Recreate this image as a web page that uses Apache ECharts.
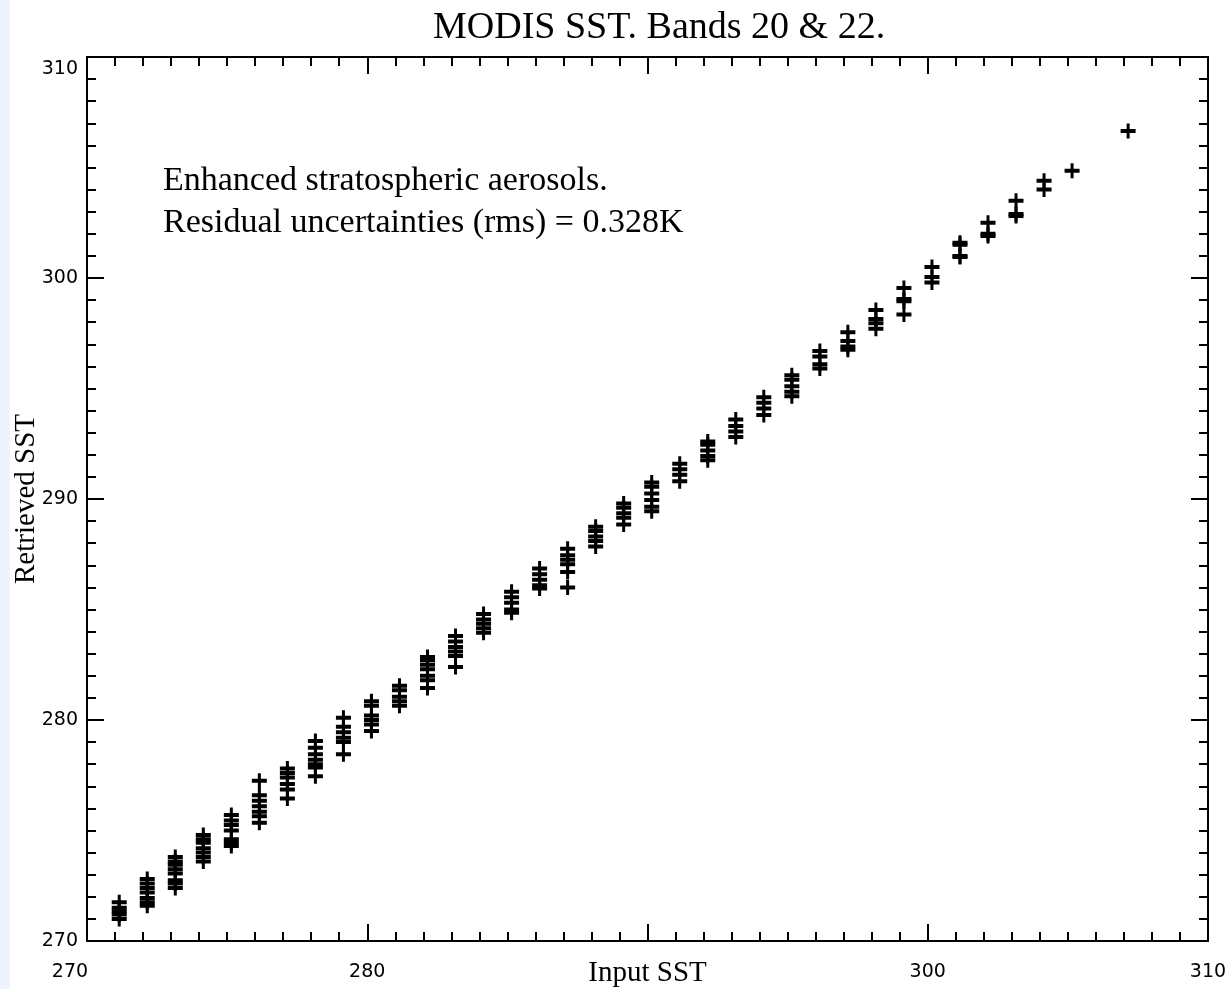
<!DOCTYPE html>
<html>
<head>
<meta charset="utf-8">
<title>MODIS SST. Bands 20 & 22.</title>
<script src="https://cdn.jsdelivr.net/npm/echarts@6/dist/echarts.min.js"></script>
<style>
  html, body { margin: 0; padding: 0; background: #fff; }
  #strip { position: absolute; left: 0; top: 0; width: 10px; height: 989px; background: #eef4fb; }
  #chart { position: absolute; left: 0; top: 0; width: 1230px; height: 989px; }
</style>
</head>
<body>
<div id="strip"></div>
<div id="chart"></div>
<script>
// input SST of each column of marks
const inputSST = [
  271.15, 272.15, 273.15, 274.15, 275.15, 276.15, 277.15, 278.15, 279.15, 280.15,
  281.15, 282.15, 283.15, 284.15, 285.15, 286.15, 287.15, 288.15, 289.15, 290.15,
  291.15, 292.15, 293.15, 294.15, 295.15, 296.15, 297.15, 298.15, 299.15, 300.15,
  301.15, 302.15, 303.15, 304.15, 305.15, 307.15
]

// retrieved SST values, one list per input column
const retrievedSST = [
  [271.75, 271.5, 271.35, 271.2, 271.0],
  [272.8, 272.6, 272.4, 272.2, 271.95, 271.75, 271.6],
  [273.8, 273.6, 273.45, 273.25, 273.05, 272.75, 272.6, 272.4],
  [274.8, 274.6, 274.45, 274.2, 274.0, 273.8, 273.6],
  [275.7, 275.45, 275.25, 275.0, 274.6, 274.45, 274.3],
  [277.25, 276.6, 276.35, 276.1, 275.85, 275.65, 275.35],
  [277.8, 277.6, 277.4, 277.1, 276.85, 276.45],
  [279.05, 278.75, 278.45, 278.2, 278.0, 277.85, 277.45],
  [280.1, 279.7, 279.45, 279.2, 279.0, 278.45],
  [280.85, 280.65, 280.2, 280.0, 279.8, 279.5],
  [281.55, 281.35, 281.05, 280.85, 280.65],
  [282.85, 282.7, 282.5, 282.3, 282.0, 281.8, 281.45],
  [283.8, 283.55, 283.3, 283.1, 282.9, 282.4],
  [284.8, 284.55, 284.35, 284.15, 283.95],
  [285.8, 285.55, 285.3, 285.0, 284.85],
  [286.85, 286.6, 286.35, 286.1, 285.95],
  [287.75, 287.45, 287.25, 287.05, 286.7, 286.0],
  [288.75, 288.55, 288.3, 288.1, 287.85],
  [289.8, 289.6, 289.35, 289.15, 288.85],
  [290.75, 290.55, 290.25, 289.95, 289.65, 289.45],
  [291.6, 291.35, 291.1, 290.8],
  [292.6, 292.45, 292.2, 291.95, 291.75],
  [293.6, 293.3, 293.05, 292.8],
  [294.6, 294.35, 294.1, 293.8],
  [295.6, 295.4, 295.1, 294.85, 294.65],
  [296.7, 296.45, 296.1, 295.9],
  [297.55, 297.15, 296.9, 296.75],
  [298.55, 298.15, 297.95, 297.7],
  [299.55, 299.05, 298.95, 298.35],
  [300.5, 300.05, 299.8],
  [301.6, 301.5, 301.0, 300.95],
  [302.5, 302.0, 301.9],
  [303.5, 302.9, 302.8],
  [304.4, 304.0],
  [304.85],
  [306.65]
]

const axisMin = 270
const axisMax = 310
const axisStep = 10

const titleText = 'MODIS SST. Bands 20 & 22.'
const noteLines = ['Enhanced stratospheric aerosols.', 'Residual uncertainties (rms) = 0.328K']

const points = []
inputSST.forEach((x, i) => {
  retrievedSST[i].forEach(y => points.push([x, y]))
})

// "+" mark: thick horizontal bar, thinner vertical stroke
const plusSymbol = 'path://M0,5.5 L15,5.5 L15,9.5 L0,9.5 Z M6,0 L9,0 L9,15 L6,15 Z'

const serif = '"Liberation Serif", "DejaVu Serif", serif'
const sans = '"DejaVu Sans", sans-serif'

const baseAxis = (extra) => Object.assign({
  type: 'value',
  min: axisMin,
  max: axisMax,
  interval: axisStep,
  nameMoveOverlap: false,
  axisLine: { show: true, lineStyle: { color: '#000', width: 2 } },
  axisTick: { show: true, inside: true, length: 17, lineStyle: { color: '#000', width: 2 } },
  minorTick: { show: true, splitNumber: 10, length: 9, lineStyle: { color: '#000', width: 2 } },
  splitLine: { show: false }
}, extra)

const chart = echarts.init(document.getElementById('chart'))

chart.setOption({
  animation: false,
  backgroundColor: 'transparent',
  title: {
    text: titleText,
    left: 428,
    top: 4,
    textStyle: { fontFamily: serif, fontWeight: 'normal', fontSize: 38, color: '#000' }
  },
  graphic: noteLines.map((line, i) => ({
    type: 'text',
    left: 163,
    top: 164 + i * 42,
    style: { text: line, font: '34px ' + serif, fill: '#000' }
  })),
  grid: { left: 87, right: 22, top: 57, bottom: 48, outerBoundsMode: 'none', containLabel: false },
  xAxis: [
    baseAxis({
      position: 'bottom',
      name: 'Input SST',
      nameLocation: 'middle',
      nameGap: 18,
      nameTextStyle: { fontFamily: serif, fontSize: 29, color: '#000' },
      axisLabel: {
        margin: 22,
        fontFamily: sans,
        fontSize: 19,
        color: '#000',
        formatter: v => v === 290 ? '' : (v === axisMin ? '{first|' + v + '}' : String(v)),
        rich: { first: { fontFamily: sans, fontSize: 19, color: '#000', padding: [0, 34, 0, 0] } }
      }
    }),
    baseAxis({ position: 'top', axisLabel: { show: false } })
  ],
  yAxis: [
    baseAxis({
      position: 'left',
      name: 'Retrieved SST',
      nameLocation: 'middle',
      nameGap: 46,
      nameTextStyle: { fontFamily: serif, fontSize: 29, color: '#000' },
      axisLabel: {
        margin: 9,
        fontFamily: sans,
        fontSize: 19,
        color: '#000',
        formatter: v => v === axisMax ? '{last|' + v + '}' : String(v),
        rich: { last: { fontFamily: sans, fontSize: 19, color: '#000', padding: [24, 0, 0, 0] } }
      }
    }),
    baseAxis({ position: 'right', axisLabel: { show: false } })
  ],
  series: [{
    type: 'scatter',
    data: points,
    symbol: plusSymbol,
    symbolSize: [15, 15],
    itemStyle: { color: '#000', opacity: 1 },
    emphasis: { disabled: true }
  }]
})
</script>
</body>
</html>
